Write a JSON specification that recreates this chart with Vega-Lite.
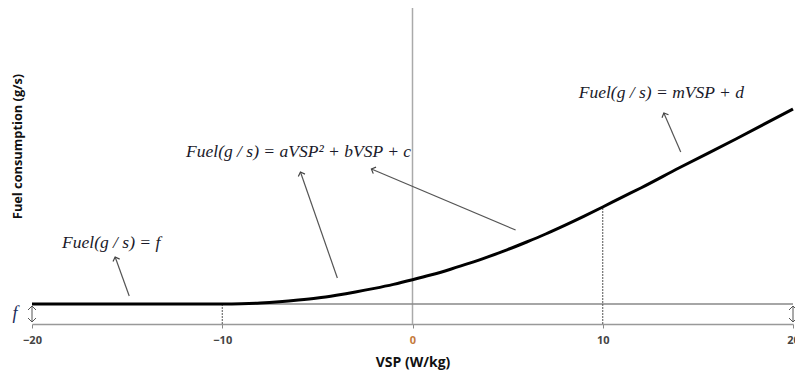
{
  "$schema": "https://vega.github.io/schema/vega-lite/v6.json",
  "width": 761,
  "height": 316,
  "autosize": {"type": "none"},
  "padding": {"left": 32, "top": 8, "right": 2, "bottom": 48},
  "background": "white",
  "config": {"view": {"stroke": null}},
  "layer": [
    {
      "data": {"values": [{"x": 0, "y": 0, "y2": 15.8}]},
      "mark": {"type": "rule", "color": "#aaaaaa", "strokeWidth": 1.5},
      "encoding": {
        "x": {"field": "x", "type": "quantitative", "scale": {"domain": [-20, 20], "nice": false},
          "axis": {"values": [-20, -10, 0, 10, 20], "title": "VSP (W/kg)", "grid": false, "domainColor": "#999999", "domainWidth": 1.5, "tickColor": "#888888", "tickSize": 4, "labelFlush": false,
            "labelFont": "Open Sans", "labelFontWeight": "bold", "labelFontSize": 11, "labelPadding": 6,
            "labelColor": {"condition": {"test": "datum.value == 0", "value": "#c47a3c"}, "value": "#444444"},
            "titleFont": "Open Sans", "titleFontWeight": "bold", "titleFontSize": 14, "titleColor": "#111111", "titleY": 38, "titleBaseline": "middle"}},
        "y": {"field": "y", "type": "quantitative", "scale": {"domain": [0, 15.8], "nice": false},
          "axis": {"title": "Fuel consumption (g/s)", "domain": false, "ticks": false, "labels": false, "grid": false,
            "titleFont": "Open Sans", "titleFontWeight": "bold", "titleFontSize": 12.8, "titleColor": "#111111", "titleX": -15, "titleY": 138, "titleAngle": -90, "titleAlign": "center", "titleBaseline": "middle"}},
        "y2": {"field": "y2"}
      }
    },
    {
      "data": {"values": [{"y": 1}]},
      "mark": {"type": "rule", "color": "#888888", "strokeWidth": 1.5},
      "encoding": {"y": {"field": "y", "type": "quantitative"}}
    },
    {
      "data": {"values": [{"x": -10, "y": 0, "y2": 1.0}, {"x": 10, "y": 0, "y2": 5.85}]},
      "mark": {"type": "rule", "color": "#555555", "strokeWidth": 1, "strokeDash": [2, 1]},
      "encoding": {"x": {"field": "x", "type": "quantitative"}, "y": {"field": "y", "type": "quantitative"}, "y2": {"field": "y2"}}
    },
    {
      "data": {"values": [{"x": -20, "y": 0.12, "y2": 0.88}, {"x": 20, "y": 0.12, "y2": 0.88}]},
      "mark": {"type": "rule", "color": "#555555", "strokeWidth": 1},
      "encoding": {"x": {"field": "x", "type": "quantitative"}, "y": {"field": "y", "type": "quantitative"}, "y2": {"field": "y2"}}
    },
    {
      "data": {"values": [{"x": -20, "y": 0.9}, {"x": 20, "y": 0.9}]},
      "mark": {"type": "point", "shape": "M-1,1L0,0L1,1", "filled": false, "color": "#555555", "strokeWidth": 1, "size": 64, "angle": 0, "opacity": 1},
      "encoding": {"x": {"field": "x", "type": "quantitative"}, "y": {"field": "y", "type": "quantitative"}}
    },
    {
      "data": {"values": [{"x": -20, "y": 0.1}, {"x": 20, "y": 0.1}]},
      "mark": {"type": "point", "shape": "M-1,1L0,0L1,1", "filled": false, "color": "#555555", "strokeWidth": 1, "size": 64, "angle": 180, "opacity": 1},
      "encoding": {"x": {"field": "x", "type": "quantitative"}, "y": {"field": "y", "type": "quantitative"}}
    },
    {
      "data": {"values": [
        {"x": -20, "y": 1.0}, {"x": -10, "y": 1.0}, {"x": -9, "y": 1.012}, {"x": -8, "y": 1.048},
        {"x": -7, "y": 1.11}, {"x": -6, "y": 1.195}, {"x": -5, "y": 1.3}, {"x": -4, "y": 1.44},
        {"x": -3, "y": 1.6}, {"x": -2, "y": 1.78}, {"x": -1, "y": 1.98}, {"x": 0, "y": 2.21},
        {"x": 1, "y": 2.46}, {"x": 2, "y": 2.74}, {"x": 3, "y": 3.04}, {"x": 4, "y": 3.37},
        {"x": 5, "y": 3.72}, {"x": 6, "y": 4.1}, {"x": 7, "y": 4.5}, {"x": 8, "y": 4.93},
        {"x": 9, "y": 5.38}, {"x": 10, "y": 5.85}, {"x": 11, "y": 6.33}, {"x": 12, "y": 6.8},
        {"x": 14, "y": 7.8}, {"x": 17, "y": 9.25}, {"x": 20, "y": 10.75}
      ]},
      "mark": {"type": "line", "color": "#000000", "strokeWidth": 3, "interpolate": "monotone"},
      "encoding": {"x": {"field": "x", "type": "quantitative"}, "y": {"field": "y", "type": "quantitative"}}
    },
    {
      "data": {"values": [
        {"x": -14.89, "y": 1.4, "x2": -15.63, "y2": 3.35},
        {"x": -3.95, "y": 2.3, "x2": -5.89, "y2": 7.6},
        {"x": 5.42, "y": 4.7, "x2": -2.16, "y2": 7.75},
        {"x": 14.1, "y": 8.6, "x2": 13.21, "y2": 10.55}
      ]},
      "mark": {"type": "rule", "color": "#555555", "strokeWidth": 1.2},
      "encoding": {"x": {"field": "x", "type": "quantitative"}, "y": {"field": "y", "type": "quantitative"}, "x2": {"field": "x2"}, "y2": {"field": "y2"}}
    },
    {
      "data": {"values": [{"x": -15.63, "y": 3.35}, {"x": -5.89, "y": 7.6}]},
      "mark": {"type": "point", "shape": "M-1,1L0,0L1,1", "filled": false, "color": "#444444", "strokeWidth": 1.2, "size": 50, "angle": -20, "opacity": 1},
      "encoding": {"x": {"field": "x", "type": "quantitative"}, "y": {"field": "y", "type": "quantitative"}}
    },
    {
      "data": {"values": [{"x": -2.16, "y": 7.75}]},
      "mark": {"type": "point", "shape": "M-1,1L0,0L1,1", "filled": false, "color": "#444444", "strokeWidth": 1.2, "size": 50, "angle": -67, "opacity": 1},
      "encoding": {"x": {"field": "x", "type": "quantitative"}, "y": {"field": "y", "type": "quantitative"}}
    },
    {
      "data": {"values": [{"x": 13.21, "y": 10.55}]},
      "mark": {"type": "point", "shape": "M-1,1L0,0L1,1", "filled": false, "color": "#444444", "strokeWidth": 1.2, "size": 50, "angle": -24, "opacity": 1},
      "encoding": {"x": {"field": "x", "type": "quantitative"}, "y": {"field": "y", "type": "quantitative"}}
    },
    {
      "data": {"values": [
        {"x": -18.42, "y": 4.05, "t": "Fuel(g / s) = f"},
        {"x": -11.9, "y": 8.6, "t": "Fuel(g / s) = aVSP² + bVSP + c"},
        {"x": 8.74, "y": 11.55, "t": "Fuel(g / s) = mVSP + d"}
      ]},
      "mark": {"type": "text", "align": "left", "baseline": "middle", "font": "Liberation Serif", "fontStyle": "italic", "fontSize": 17.5, "color": "#1a1a2a"},
      "encoding": {"x": {"field": "x", "type": "quantitative"}, "y": {"field": "y", "type": "quantitative"}, "text": {"field": "t"}}
    },
    {
      "data": {"values": [{"x": -20, "y": 0.5, "t": "f"}]},
      "mark": {"type": "text", "align": "center", "baseline": "middle", "dx": -17, "font": "Liberation Serif", "fontStyle": "italic", "fontSize": 18, "color": "#1a2a5a"},
      "encoding": {"x": {"field": "x", "type": "quantitative"}, "y": {"field": "y", "type": "quantitative"}, "text": {"field": "t"}}
    }
  ]
}
